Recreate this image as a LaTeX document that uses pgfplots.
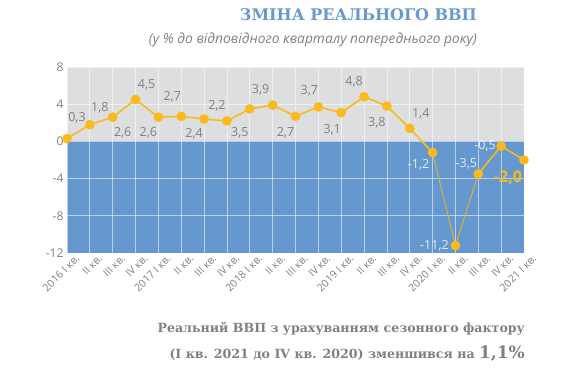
\documentclass[border=0pt]{standalone}
\usepackage{pgfplots}
\usepackage{pgfplotstable}
\pgfplotsset{compat=1.18}
\usepackage{fontspec}
\setmainfont{Open Sans}
\newfontfamily\serifbold{DejaVu Serif}
\definecolor{bggray}{RGB}{221,222,224}
\definecolor{bgblue}{RGB}{100,152,206}
\definecolor{lineor}{RGB}{250,186,30}
\definecolor{txtgray}{RGB}{128,128,128}
\definecolor{titleblue}{RGB}{104,152,208}

\pgfplotstableread{
x y
0 0.3
1 1.8
2 2.6
3 4.5
4 2.6
5 2.7
6 2.4
7 2.2
8 3.5
9 3.9
10 2.7
11 3.7
12 3.1
13 4.8
14 3.8
15 1.4
16 -1.2
17 -11.2
18 -3.5
19 -0.5
20 -2.0
}\gdp

\pgfplotstableread{
x y lab dx dy
0 0.3 0,3 10 21
1 1.8 1,8 10 17
2 2.6 2,6 10 -16
3 4.5 4,5 11 15
4 2.6 2,6 -10 -16
5 2.7 2,7 -9 20
6 2.4 2,4 -10 -15
7 2.2 2,2 -10 15
8 3.5 3,5 -10 -24
9 3.9 3,9 -12 15
10 2.7 2,7 -10 -16
11 3.7 3,7 -9 16
12 3.1 3,1 -9 -17
13 4.8 4,8 -10 15
14 3.8 3,8 -10 -17
15 1.4 1,4 11 15
}\labgray

\pgfplotstableread{
x y lab dx dy
16 -1.2 -1,2 -14 -12
17 -11.2 -11,2 -21 0
18 -3.5 -3,5 -12 10
19 -0.5 -0,5 -16 0
}\labwhite

\pgfplotstableread{
x y lab dx dy
20 -2.0 -2,0 -16 -18
}\laborange

\pgfplotsset{lablstyle/.style={draw=none, mark=none, point meta=explicit symbolic,
  nodes near coords, nodes near coords align={center},
  visualization depends on={\thisrow{dx}\as\dx},
  visualization depends on={\thisrow{dy}\as\dy}}}

\begin{document}
\begin{tikzpicture}
\useasboundingbox (0pt,0pt) rectangle (574pt,388pt);
\begin{axis}[
  at={(67pt,135pt)}, anchor=south west,
  scale only axis, width=457pt, height=186pt,
  xmin=0, xmax=20, ymin=-12, ymax=8,
  clip=false,
  axis background/.style={fill=bggray, path picture={
     \fill[bgblue] (path picture bounding box.south west) rectangle ([yshift=111.6pt]path picture bounding box.south east);}},
  axis line style={draw=none},
  major tick style={draw=none},
  ytick={-12,-8,-4,0,4,8},
  xtick={0,...,20},
  xticklabels={2016 I кв.,II кв.,III кв.,IV кв.,2017 I кв.,II кв.,III кв.,IV кв.,2018 I кв.,II кв.,III кв.,IV кв.,2019 I кв.,II кв.,III кв.,IV кв.,2020 I кв.,II кв.,III кв.,IV кв.,2021 I кв.},
  x tick label style={rotate=45, anchor=north east, font=\fontsize{10.5}{11}\selectfont, text=txtgray, xshift=6pt, yshift=-5pt, inner sep=1pt},
  y tick label style={font=\fontsize{12}{13}\selectfont, text=txtgray},
  /pgf/number format/assume math mode=true,
  xmajorgrids, ymajorgrids,
  grid style={white, line width=0.7pt, opacity=0.55},
]
\addplot[lineor, line width=1.6pt, mark=none] table[x=x,y=y, restrict x to domain=0:16] {\gdp};
\addplot[lineor!85!gray, line width=0.9pt, mark=none] table[x=x,y=y, restrict x to domain=16:18] {\gdp};
\addplot[lineor, line width=1.6pt, mark=none] table[x=x,y=y, restrict x to domain=18:20] {\gdp};
\addplot[only marks, mark=*, mark size=4.6pt, lineor, mark options={draw=lineor, fill=lineor}] table[x=x,y=y] {\gdp};

\addplot[lablstyle,
  every node near coord/.append style={anchor=center, xshift=\dx pt, yshift=\dy pt, text=txtgray, font=\fontsize{12.5}{13}\selectfont, inner sep=0pt}]
  table[x=x, y=y, meta=lab] {\labgray};
\addplot[lablstyle,
  every node near coord/.append style={anchor=center, xshift=\dx pt, yshift=\dy pt, text=white, text opacity=0.85, font=\fontsize{12.5}{13}\selectfont, inner sep=0pt}]
  table[x=x, y=y, meta=lab] {\labwhite};
\addplot[lablstyle,
  every node near coord/.append style={anchor=center, xshift=\dx pt, yshift=\dy pt, text=lineor, font=\fontsize{16}{17}\selectfont\bfseries, inner sep=0pt}]
  table[x=x, y=y, meta=lab] {\laborange};
\end{axis}

\node[anchor=east, inner sep=0pt, text=titleblue, font=\serifbold\bfseries\fontsize{16}{18}\selectfont] at (477pt,373pt) {ЗМІНА РЕАЛЬНОГО ВВП};
\node[anchor=east, inner sep=0pt, text=txtgray, font=\itshape\fontsize{13.8}{15}\selectfont] at (477pt,348pt) {(у \% до відповідного кварталу попереднього року)};
\node[anchor=east, inner sep=0pt, text=txtgray, font=\serifbold\bfseries\fontsize{12.6}{14}\selectfont] at (525pt,59pt) {Реальний ВВП з урахуванням сезонного фактору};
\node[anchor=east, inner sep=0pt, text=txtgray, font=\serifbold\bfseries\fontsize{12.6}{14}\selectfont] at (525pt,34pt) {(I кв. 2021 до IV кв. 2020) зменшився на {\fontsize{17}{18}\selectfont 1,1\%}};
\end{tikzpicture}
\end{document}
